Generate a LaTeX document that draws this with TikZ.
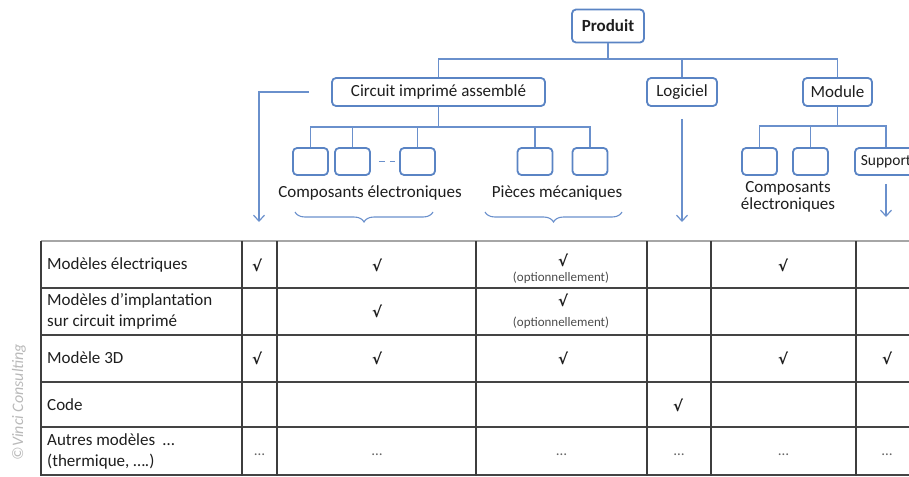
\documentclass[tikz,border=0pt]{standalone}
\usepackage{fontspec}
\setmainfont{Carlito}
\newfontfamily\symfont{DejaVu Sans}
\usetikzlibrary{arrows.meta,decorations.pathreplacing,calc}
\definecolor{boxblue}{HTML}{5A84C4}
\definecolor{linkblue}{HTML}{6A90CC}
\definecolor{gridgray}{HTML}{444444}
\definecolor{inkgray}{HTML}{1E1E1E}

\begin{document}
\begin{tikzpicture}[x=1pt,y=-1pt,
  tbox/.style={draw=boxblue, line width=1.8pt, rounded corners=4pt, fill=white,
    inner sep=0pt, minimum height=28pt, text=inkgray,
    font=\fontsize{17}{20}\selectfont},
  kid/.style={tbox, minimum width=35pt, minimum height=27pt},
  link/.style={draw=linkblue, line width=1.4pt},
  down/.style={link, -{Straight Barb[length=6pt,width=11pt,line width=1.2pt]}},
  bracket/.style={draw=linkblue, line width=1.1pt, decorate,
    decoration={brace, mirror, amplitude=10pt}},
  lbl/.style={inner sep=0pt, text=inkgray, font=\fontsize{17}{20}\selectfont},
  rowlbl/.style={lbl, anchor=west, align=left, font=\fontsize{17}{21}\selectfont},
  tick/.style={inner sep=0pt, text=inkgray, font=\symfont\bfseries\fontsize{15}{15}\selectfont},
  optnote/.style={inner sep=0pt, text=inkgray!80, font=\fontsize{13}{13}\selectfont},
  etc/.style={inner sep=0pt, text=gray!80!black, font=\fontsize{15}{15}\selectfont},
  hrule/.style={draw=gridgray, line width=1.6pt},
  vrule/.style={draw=gridgray!90!black, line width=2pt}]

\useasboundingbox (0,0) rectangle (909,476);

% ---- product tree ----
\node[tbox, minimum width=72pt, minimum height=33pt, font=\bfseries\fontsize{17}{20}\selectfont] (prod) at (608,26) {Produit};
\node[tbox, minimum width=213pt] (pcb)  at (438.5,92) {Circuit imprimé assemblé};
\node[tbox, minimum width=70pt]  (logi) at (682,92)   {Logiciel};
\node[tbox, minimum width=69pt]  (modu) at (837.5,92) {Module};

\coordinate (bus1) at (608,59);
\draw[link] (prod) -- (bus1);
\draw[link] (pcb.north) -- (pcb.north |- bus1) -- (modu.north |- bus1) -- (modu.north);
\draw[link] (logi.north) -- (logi.north |- bus1);

% printed circuit assembly: components and mechanical parts
\node[kid] (c1) at (310.5,161.5) {};
\node[kid] (c2) at (352.5,161.5) {};
\node[kid] (c3) at (417.5,161.5) {};
\node[kid] (m1) at (535,161.5) {};
\node[kid] (m2) at (590,161.5) {};
\coordinate (bus2) at (438.5,127);
\draw[link] (pcb.south) -- (bus2);
\draw[link] (c1.north) -- (c1.north |- bus2) -- (m2.north |- bus2) -- (m2.north);
\foreach \k in {c2,c3,m1} \draw[link] (\k.north) -- (\k.north |- bus2);
\draw[link, line width=1.8pt, dash pattern=on 6pt off 5pt] ([xshift=8pt]c2.east) -- ([xshift=-4pt]c3.west);

\node[lbl] (ce) at (370,193) {Composants électroniques};
\node[lbl] (pm) at (557,193) {Pièces mécaniques};
\draw[bracket] (295,212) -- (433,212);
\draw[bracket] (485,212) -- (622,212);

% module: components and support
\node[kid] (mc1) at (759.5,161.5) {};
\node[kid] (mc2) at (810.5,161.5) {};
\node[tbox, minimum width=62pt, minimum height=27pt, font=\fontsize{15.5}{18}\selectfont] (sup) at (886,161.5) {Support};
\coordinate (bus3) at (837.5,126);
\draw[link] (modu.south) -- (bus3);
\draw[link] (mc1.north) -- (mc1.north |- bus3) -- (sup.north |- bus3) -- (sup.north);
\draw[link] (mc2.north) -- (mc2.north |- bus3);
\node[lbl, align=center, font=\fontsize{17}{17}\selectfont] (mce) at (788,197) {Composants\\électroniques};

% arrows down to the table columns
\coordinate (pcbL) at ([xshift=-22pt]pcb.west);
\coordinate (a1) at (259,222);
\draw[down] (pcbL) -| (a1);
\coordinate (a4) at (682,222);
\draw[down] ([yshift=-12pt]logi.south) -- (a4);
\coordinate (a6) at (886,217);
\draw[down] ([yshift=-8pt]sup.south) -- (a6);

% ---- table ----
\draw[draw=gray!70, line width=2pt] (41,241) -- (915,241);
\foreach \y in {288,335,382,427,475} \draw[hrule] (41,\y) -- (915,\y);
\foreach \x in {41,242,277,476,647,711,856} \draw[vrule] (\x,241) -- (\x,476);

\node[rowlbl] (r1) at (47,265) {Modèles électriques};
\node[rowlbl] (r2) at (47,311) {Modèles d’implantation\\sur circuit imprimé};
\node[rowlbl] (r3) at (47,358) {Modèle 3D};
\node[rowlbl] (r4) at (47,405) {Code};
\node[rowlbl] (r5) at (47,451) {Autres modèles \ …\\(thermique, ….)};

% row 1
\node[tick] (t11) at (257,265) {√};
\node[tick] (t12) at (377,265) {√};
\node[tick] (t13) at (563,260) {√};
\node[optnote] (o13) at (561,278) {(optionnellement)};
\node[tick] (t15) at (783,265) {√};
% row 2
\node[tick] (t22) at (377,311) {√};
\node[tick] (t23) at (563,300) {√};
\node[optnote] (o23) at (561,323) {(optionnellement)};
% row 3
\node[tick] (t31) at (257,358) {√};
\node[tick] (t32) at (377,358) {√};
\node[tick] (t33) at (563,358) {√};
\node[tick] (t35) at (783,358) {√};
\node[tick] (t36) at (887,358) {√};
% row 4
\node[tick] (t44) at (678,405) {√};
% row 5
\foreach \x/\n in {259.5/e1,377/e2,561.5/e3,679/e4,783.5/e5,887/e6}
  \node[etc] (\n) at (\x,455) {…};

% ---- credit ----
\node[rotate=90, inner sep=0pt, text=gray!55, font=\itshape\fontsize{16}{16}\selectfont] (credit) at (19,402) {©Vinci Consulting};
\end{tikzpicture}
\end{document}
